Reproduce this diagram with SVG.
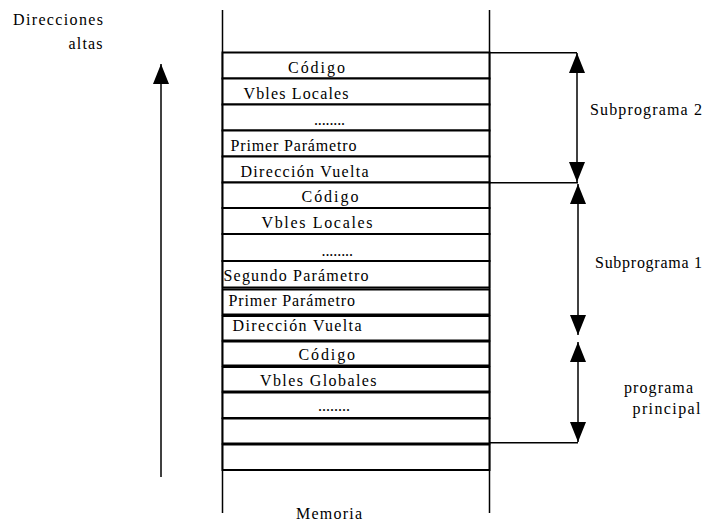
<svg xmlns="http://www.w3.org/2000/svg" width="705" height="522" viewBox="0 0 705 522" font-family="Liberation Serif" font-size="16">
<style>
.cell{fill:#fff;stroke:#000;stroke-width:2}
.rail{stroke:#000;stroke-width:1.5;fill:none}
.conn{stroke:#000;stroke-width:1.5;fill:none}
</style>
<defs>
<marker id="tri" viewBox="0 0 20 16" refX="20" refY="8" markerWidth="20" markerHeight="16" markerUnits="userSpaceOnUse" orient="auto-start-reverse">
<path d="M0,0 L20,8 L0,16 z" fill="#000"/>
</marker>
</defs>
<rect width="705" height="522" fill="#fff"/>
<g id="memoria">
<line class="rail" x1="222.5" y1="10" x2="222.5" y2="513"/>
<line class="rail" x1="489.5" y1="10" x2="489.5" y2="513"/>
<text x="296" y="519" textLength="66" lengthAdjust="spacing">Memoria</text>
</g>
<g id="cell1"><rect class="cell" x="222.5" y="52.5" width="267" height="26"/><text x="288" y="73" textLength="57" lengthAdjust="spacing">Código</text></g>
<g id="cell2"><rect class="cell" x="222.5" y="78.5" width="267" height="26"/><text x="243.5" y="99" textLength="105" lengthAdjust="spacing">Vbles Locales</text></g>
<g id="cell3"><rect class="cell" x="222.5" y="104.5" width="267" height="26"/><text x="314" y="125" textLength="31" lengthAdjust="spacing">........</text></g>
<g id="cell4"><rect class="cell" x="222.5" y="130.5" width="267" height="26"/><text x="230.5" y="150.5" textLength="126" lengthAdjust="spacing">Primer Parámetro</text></g>
<g id="cell5"><rect class="cell" x="222.5" y="156.5" width="267" height="26"/><text x="240.5" y="176.5" textLength="128" lengthAdjust="spacing">Dirección Vuelta</text></g>
<g id="cell6"><rect class="cell" x="222.5" y="182.5" width="267" height="25.5"/><text x="301.5" y="201.5" textLength="57" lengthAdjust="spacing">Código</text></g>
<g id="cell7"><rect class="cell" x="222.5" y="208" width="267" height="26"/><text x="261.5" y="227.5" textLength="111" lengthAdjust="spacing">Vbles Locales</text></g>
<g id="cell8"><rect class="cell" x="222.5" y="234" width="267" height="27"/><text x="321.5" y="256" textLength="31.5" lengthAdjust="spacing">........</text></g>
<g id="cell9"><rect class="cell" x="222.5" y="261" width="267" height="26.5"/><text x="223.5" y="281" textLength="145" lengthAdjust="spacing">Segundo Parámetro</text></g>
<g id="cell10"><rect class="cell" x="222.5" y="289.5" width="267" height="25"/><text x="228.5" y="306" textLength="126.5" lengthAdjust="spacing">Primer Parámetro</text></g>
<g id="cell11"><rect class="cell" x="222.5" y="316" width="267" height="24.5"/><text x="232.5" y="330.5" textLength="129" lengthAdjust="spacing">Dirección Vuelta</text></g>
<g id="cell12"><rect class="cell" x="222.5" y="341.5" width="267" height="24"/><text x="298.5" y="359.5" textLength="56.5" lengthAdjust="spacing">Código</text></g>
<g id="cell13"><rect class="cell" x="222.5" y="367" width="267" height="24.5"/><text x="260" y="386" textLength="116.5" lengthAdjust="spacing">Vbles Globales</text></g>
<g id="cell14"><rect class="cell" x="222.5" y="392.5" width="267" height="25.5"/><text x="318" y="411" textLength="32" lengthAdjust="spacing">........</text></g>
<g id="cell15"><rect class="cell" x="222.5" y="418.5" width="267" height="25"/></g>
<g id="cell16"><rect class="cell" x="222.5" y="444.5" width="267" height="25.5"/></g>
<g id="label-direcciones">
<text x="13" y="25" textLength="90" lengthAdjust="spacing">Direcciones</text>
<text x="68.5" y="48.5" textLength="34" lengthAdjust="spacing">altas</text>
</g>
<g id="label-sub2"><text x="590" y="114.5" textLength="112" lengthAdjust="spacing">Subprograma 2</text></g>
<g id="label-sub1"><text x="595" y="267.5" textLength="107" lengthAdjust="spacing">Subprograma 1</text></g>
<g id="label-principal">
<text x="624" y="392.5" textLength="69" lengthAdjust="spacing">programa</text>
<text x="632.5" y="413.5" textLength="68" lengthAdjust="spacing">principal</text>
</g>
<g id="connectors">
<line class="conn" x1="161" y1="477" x2="161" y2="64" marker-end="url(#tri)"/>
<polyline class="conn" points="490,52.7 577,52.7"/>
<polyline class="conn" points="490,182.7 578,182.7"/>
<polyline class="conn" points="490,442.7 578,442.7"/>
<line class="conn" x1="577" y1="53" x2="577" y2="182" marker-start="url(#tri)" marker-end="url(#tri)"/>
<line class="conn" x1="578" y1="184" x2="578" y2="335" marker-start="url(#tri)" marker-end="url(#tri)"/>
<line class="conn" x1="578" y1="342" x2="578" y2="442" marker-start="url(#tri)" marker-end="url(#tri)"/>
</g>
</svg>
